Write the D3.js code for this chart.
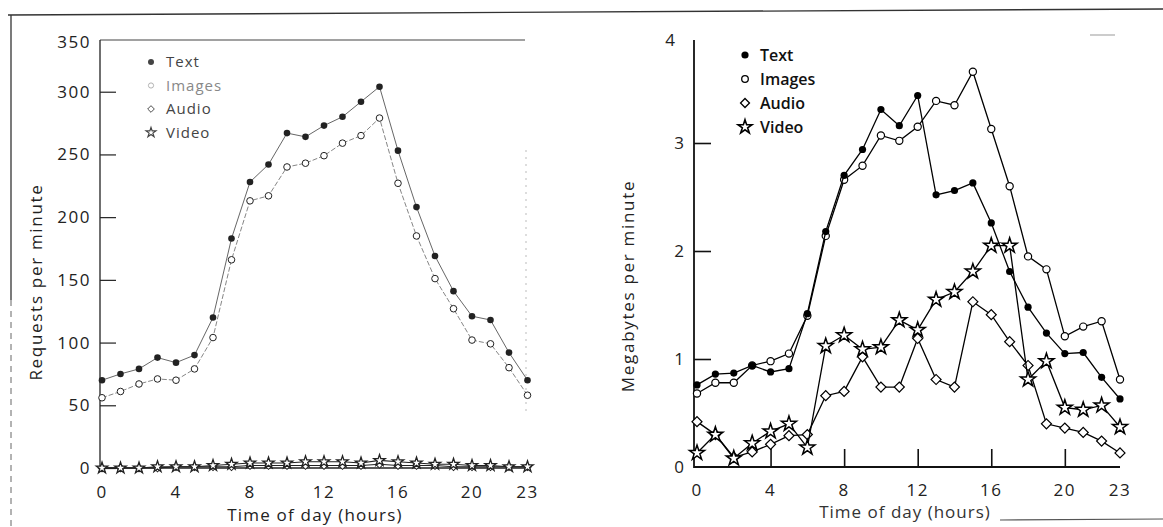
<!DOCTYPE html>
<html>
<head>
<meta charset="utf-8">
<script src="https://cdn.jsdelivr.net/npm/d3@7/dist/d3.min.js"></script>
<style>
  body { margin: 0; background: #fff; }
  svg text { font-family: "Open Sans", "DejaVu Sans", sans-serif; }
</style>
</head>
<body>
<div id="chart"></div>
<script>
// hours of the day and tick labels
var hours = [0, 1, 2, 3, 4, 5, 6, 7, 8, 9, 10, 11, 12, 13, 14, 15, 16, 17, 18, 19, 20, 21, 22, 23];
var xTicks = [0, 4, 8, 12, 16, 20, 23];
var reqTicks = [0, 50, 100, 150, 200, 250, 300];
var mbTicks = [0, 1, 2, 3];
var seriesNames = ['Text', 'Images', 'Audio', 'Video'];

// left panel: requests per minute
var reqText = [70, 75, 79, 88, 84, 90, 120, 183, 228, 242, 267, 264, 273, 280, 292, 304, 253, 208, 169, 141, 121, 118, 92, 70];
var reqImages = [56, 61, 67, 71, 70, 79, 104, 166, 213, 217, 240, 243, 249, 259, 265, 279, 227, 185, 151, 127, 102, 99, 80, 58];
var reqAudio = [0, 0, 0, 0, 1, 1, 1, 1, 2, 2, 2, 2, 2, 2, 2, 3, 2, 2, 2, 1, 1, 1, 1, 1];
var reqVideo = [0, 0, 0, 1, 1, 1, 2, 3, 4, 4, 4, 5, 5, 5, 4, 6, 5, 4, 3, 3, 2, 2, 1, 1];

// right panel: megabytes per minute
var mbText = [0.76, 0.86, 0.87, 0.94, 0.88, 0.91, 1.42, 2.18, 2.70, 2.94, 3.31, 3.16, 3.44, 2.52, 2.56, 2.63, 2.26, 1.81, 1.48, 1.24, 1.05, 1.06, 0.83, 0.63];
var mbImages = [0.68, 0.78, 0.78, 0.94, 0.98, 1.05, 1.40, 2.14, 2.66, 2.79, 3.07, 3.02, 3.15, 3.39, 3.35, 3.66, 3.13, 2.60, 1.95, 1.83, 1.21, 1.30, 1.35, 0.81];
var mbAudio = [0.42, 0.30, 0.09, 0.14, 0.21, 0.29, 0.30, 0.66, 0.70, 1.02, 0.74, 0.74, 1.19, 0.81, 0.74, 1.53, 1.41, 1.16, 0.94, 0.40, 0.36, 0.32, 0.24, 0.13];
var mbVideo = [0.13, 0.30, 0.08, 0.22, 0.33, 0.40, 0.18, 1.12, 1.22, 1.09, 1.11, 1.36, 1.27, 1.55, 1.62, 1.81, 2.05, 2.05, 0.81, 0.98, 0.55, 0.53, 0.57, 0.37];

var svg = d3.select('#chart')
    .append('svg')
    .attr('width', 1163)
    .attr('height', 527);

// scanned page frame
svg.append('line')
    .attr('x1', 8).attr('y1', 15).attr('x2', 1163).attr('y2', 9)
    .attr('stroke', '#333').attr('stroke-width', 1.4);
svg.append('line')
    .attr('x1', 11).attr('y1', 15).attr('x2', 11).attr('y2', 300)
    .attr('stroke', '#333').attr('stroke-width', 1.3);
svg.append('line')
    .attr('x1', 11).attr('y1', 300).attr('x2', 11).attr('y2', 527)
    .attr('stroke', '#666').attr('stroke-width', 1)
    .attr('stroke-dasharray', '6,5');
svg.append('line')
    .attr('x1', 1000).attr('y1', 520).attr('x2', 1163).attr('y2', 519)
    .attr('stroke', '#555').attr('stroke-width', 1.2);
svg.append('line')
    .attr('x1', 1090).attr('y1', 35).attr('x2', 1115).attr('y2', 35)
    .attr('stroke', '#999').attr('stroke-width', 1);

function marker(g, type, x, y, o) {
    if (type === 'Text') {
        g.append('circle').attr('cx', x).attr('cy', y).attr('r', o.r)
            .attr('fill', o.color);
    } else if (type === 'Images') {
        g.append('circle').attr('cx', x).attr('cy', y).attr('r', o.r)
            .attr('fill', '#fff').attr('stroke', o.color).attr('stroke-width', o.sw);
    } else if (type === 'Audio') {
        g.append('path')
            .attr('d', d3.symbol(d3.symbolSquare, o.dSize)())
            .attr('transform', `translate(${x},${y}) rotate(45)`)
            .attr('fill', '#fff').attr('stroke', o.color).attr('stroke-width', o.sw);
    } else {
        g.append('path')
            .attr('d', d3.symbol(d3.symbolStar, o.sSize)())
            .attr('transform', `translate(${x},${y})`)
            .attr('fill', o.starFill || '#fff').attr('stroke', o.color).attr('stroke-width', o.sw + 0.3);
    }
}

function drawSeries(g, xScale, yScale, values, type, o) {
    var line = d3.line()
        .x((d, i) => xScale(hours[i]))
        .y(d => yScale(d));
    g.append('path')
        .datum(values)
        .attr('fill', 'none')
        .attr('stroke', o.lineColor)
        .attr('stroke-width', o.lw)
        .attr('stroke-dasharray', o.dash || null)
        .attr('d', line);
    values.forEach(function (v, i) {
        marker(g, type, xScale(hours[i]), yScale(v), o);
    });
}

// ---------------- left panel ----------------
var xL = d3.scaleLinear().domain([0, 23]).range([102, 527.5]);
var yL = d3.scaleLinear().domain([0, 350]).range([468, 29]);

var left = svg.append('g');

// frame
left.append('line').attr('x1', 100).attr('y1', 40).attr('x2', 525).attr('y2', 40)
    .attr('stroke', '#444').attr('stroke-width', 1.2);
left.append('line').attr('x1', 526).attr('y1', 150).attr('x2', 526).attr('y2', 415)
    .attr('stroke', '#bbb').attr('stroke-width', 1).attr('stroke-dasharray', '2,5');

var yAxisL = left.append('g')
    .attr('transform', 'translate(100,0)')
    .call(d3.axisRight(yL).tickValues(reqTicks).tickSize(16).tickFormat(''));
yAxisL.select('.domain').remove();
yAxisL.selectAll('line').attr('stroke', '#222').attr('stroke-width', 1.2);
left.append('line').attr('x1', 100).attr('y1', 40).attr('x2', 100).attr('y2', 469)
    .attr('stroke', '#222').attr('stroke-width', 1.3);

left.selectAll('.ylab')
    .data(reqTicks.concat([350]))
    .enter()
    .append('text')
    .attr('x', 91)
    .attr('y', d => d === 350 ? 42 : yL(d))
    .attr('dy', '0.35em')
    .attr('text-anchor', 'end')
    .attr('font-size', 17)
    .attr('letter-spacing', 1.5)
    .attr('fill', '#222')
    .text(d => d);

left.append('line').attr('x1', 100).attr('y1', 468).attr('x2', 528).attr('y2', 468)
    .attr('stroke', '#222').attr('stroke-width', 1.4);

left.selectAll('.xlab')
    .data(xTicks)
    .enter()
    .append('text')
    .attr('x', d => xL(d))
    .attr('y', 492)
    .attr('dy', '0.35em')
    .attr('text-anchor', 'middle')
    .attr('font-size', 17)
    .attr('letter-spacing', 1.5)
    .attr('fill', '#222')
    .text(d => d);

left.append('text')
    .attr('x', 315).attr('y', 515)
    .attr('dy', '0.35em')
    .attr('text-anchor', 'middle')
    .attr('font-size', 17)
    .attr('letter-spacing', 1.2)
    .attr('fill', '#222')
    .text('Time of day (hours)');

left.append('text')
    .attr('transform', 'translate(36,282) rotate(-90)')
    .attr('dy', '0.35em')
    .attr('text-anchor', 'middle')
    .attr('font-size', 17)
    .attr('letter-spacing', 1.7)
    .attr('fill', '#222')
    .text('Requests per minute');

var lOpts = { r: 3.3, sw: 1, dSize: 30, sSize: 40, color: '#222' };
drawSeries(left, xL, yL, reqAudio, 'Audio', Object.assign({}, lOpts, { lineColor: '#222', lw: 1.2 }));
drawSeries(left, xL, yL, reqVideo, 'Video', Object.assign({}, lOpts, { lineColor: '#222', lw: 1.2 }));
drawSeries(left, xL, yL, reqImages, 'Images', Object.assign({}, lOpts, { lineColor: '#777', lw: 0.9, dash: '5,2' }));
drawSeries(left, xL, yL, reqText, 'Text', Object.assign({}, lOpts, { lineColor: '#555', lw: 0.9 }));

// left legend
var legL = left.append('g');
seriesNames.forEach(function (name, i) {
    var y = 62 + i * 23.5;
    marker(legL, name, 151, y, { r: name === 'Text' ? 3 : 2.6, sw: 0.9, dSize: 22, sSize: 30, color: name === 'Images' ? '#aaa' : '#444' });
    legL.append('text')
        .attr('x', 166).attr('y', y)
        .attr('dy', '0.35em')
        .attr('font-size', 15)
        .attr('letter-spacing', 1)
        .attr('fill', name === 'Images' ? '#888' : '#444')
        .text(name);
});

// ---------------- right panel ----------------
var xR = d3.scaleLinear().domain([0, 23]).range([697, 1120]);
var yR = d3.scaleLinear().domain([0, 4]).range([467, 35]);

var right = svg.append('g');

var yAxisR = right.append('g')
    .attr('transform', 'translate(694,0)')
    .call(d3.axisRight(yR).tickValues(mbTicks.slice(1)).tickSize(17).tickFormat(''));
yAxisR.select('.domain').remove();
yAxisR.selectAll('line').attr('stroke', '#111').attr('stroke-width', 1.6);
right.append('line').attr('x1', 694).attr('y1', 40).attr('x2', 694).attr('y2', 468)
    .attr('stroke', '#111').attr('stroke-width', 1.8);

right.selectAll('.ylab')
    .data(mbTicks.concat([4]))
    .enter()
    .append('text')
    .attr('x', d => d === 4 ? 675 : 684)
    .attr('y', d => d === 4 ? 40 : yR(d))
    .attr('dy', '0.35em')
    .attr('text-anchor', 'end')
    .attr('font-size', 17)
    .attr('fill', '#222')
    .text(d => d);

var xAxisR = right.append('g')
    .attr('transform', 'translate(0,467)')
    .call(d3.axisTop(xR).tickValues([4, 8, 12, 16, 20]).tickSize(18).tickFormat(''));
xAxisR.select('.domain').remove();
xAxisR.selectAll('line').attr('stroke', '#111').attr('stroke-width', 1.6);
right.append('line').attr('x1', 694).attr('y1', 467).attr('x2', 1120).attr('y2', 467)
    .attr('stroke', '#111').attr('stroke-width', 2.2);

right.selectAll('.xlab')
    .data(xTicks)
    .enter()
    .append('text')
    .attr('x', d => xR(d))
    .attr('y', 490)
    .attr('dy', '0.35em')
    .attr('text-anchor', 'middle')
    .attr('font-size', 17)
    .attr('letter-spacing', 1.5)
    .attr('fill', '#222')
    .text(d => d);

right.append('text')
    .attr('x', 905).attr('y', 512)
    .attr('dy', '0.35em')
    .attr('text-anchor', 'middle')
    .attr('font-size', 17)
    .attr('letter-spacing', 1)
    .attr('fill', '#333')
    .text('Time of day (hours)');

right.append('text')
    .attr('transform', 'translate(628,286) rotate(-90)')
    .attr('dy', '0.35em')
    .attr('text-anchor', 'middle')
    .attr('font-size', 17)
    .attr('letter-spacing', 1.7)
    .attr('fill', '#222')
    .text('Megabytes per minute');

var rOpts = { r: 3.6, sw: 1.2, dSize: 50, sSize: 70, color: '#000', lineColor: '#000', lw: 1.3 };
drawSeries(right, xR, yR, mbAudio, 'Audio', rOpts);
drawSeries(right, xR, yR, mbVideo, 'Video', rOpts);
drawSeries(right, xR, yR, mbImages, 'Images', rOpts);
drawSeries(right, xR, yR, mbText, 'Text', rOpts);

// right legend
var legR = right.append('g');
seriesNames.forEach(function (name, i) {
    var y = 55 + i * 24;
    marker(legR, name, 745, y, { r: name === 'Text' ? 3.6 : 3.3, sw: 1.3, dSize: 40, sSize: 60, color: '#000' });
    legR.append('text')
        .attr('x', 760).attr('y', y)
        .attr('dy', '0.35em')
        .attr('font-size', 16)
        .attr('font-weight', 600)
        .attr('fill', '#111')
        .text(name);
});
</script>
</body>
</html>
